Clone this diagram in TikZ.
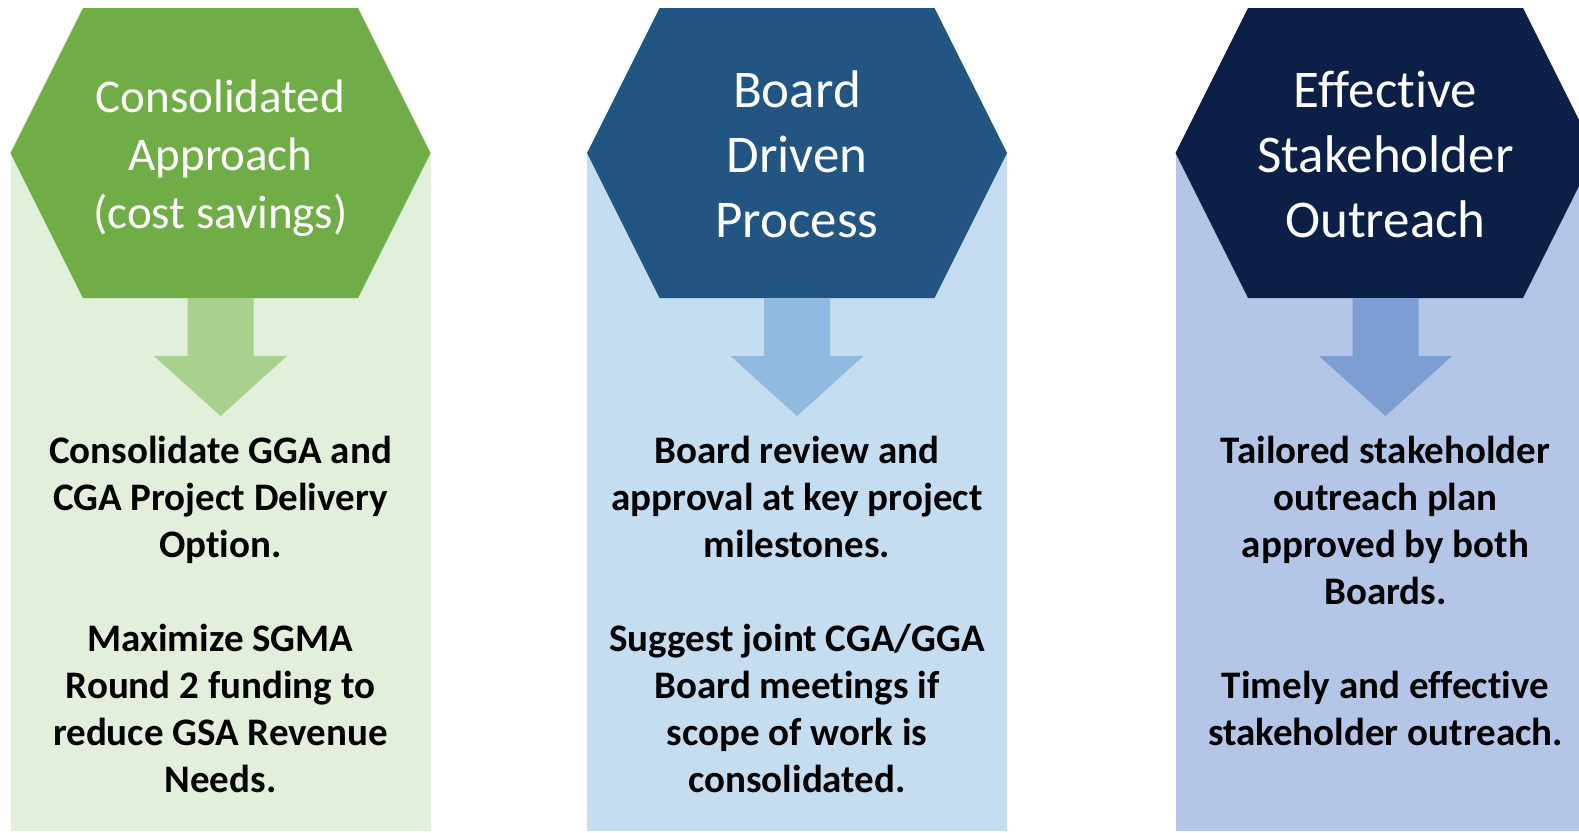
\documentclass[tikz,border=0pt]{standalone}
\usepackage{fontspec}
\setmainfont{Carlito}[Ligatures=NoCommon]
\usepackage{tikz}
\usetikzlibrary{positioning,calc}
\definecolor{greenHex}{HTML}{70AD47}
\definecolor{greenBg}{HTML}{E2EFDA}
\definecolor{greenArrow}{HTML}{A9D18E}
\definecolor{blueHex}{HTML}{225582}
\definecolor{blueBg}{HTML}{C5DDF0}
\definecolor{blueArrow}{HTML}{91BAE0}
\definecolor{navyHex}{HTML}{0C1F46}
\definecolor{navyBg}{HTML}{B4C6E7}
\definecolor{navyArrow}{HTML}{7D9ED2}
\tikzset{
  % Base styles
  panel base/.style={x=0.5pt, y=-0.5pt},
  % Column headings
  title text/.style={text=white, align=center, inner sep=0pt,
    font=\fontsize{23.5}{29}\selectfont},
  big title text/.style={title text, font=\fontsize{26.5}{32.5}\selectfont},
  % Column contents
  body text/.style={align=center, inner sep=0pt,
    font=\bfseries\fontsize{19.5}{23.5}\selectfont},
}

\begin{document}
\begin{tikzpicture}[panel base]
\useasboundingbox (0,0) rectangle (1579,832);

% Panels: background strip, hexagon and down arrow
\foreach \cx/\hexc/\bgc/\arrc [count=\i] in {220.5/greenHex/greenBg/greenArrow,
    797/blueHex/blueBg/blueArrow, 1385.5/navyHex/navyBg/navyArrow} {
  \coordinate (hex\i) at (\cx,153);
  \coordinate (tip\i) at (\cx,416);
  \begin{scope}[shift={(hex\i)}]
    \fill[\bgc] (-210,0) rectangle (210,678);
    \fill[\hexc] (-210,0) -- (-137.5,-145) -- (137.5,-145) -- (210,0)
      -- (137.5,145) -- (-137.5,145) -- cycle;
    \fill[\arrc] (-33,145) -- (33,145) -- (33,203) -- (66.5,203)
      -- (0,263) -- (-66.5,203) -- (-33,203) -- cycle;
  \end{scope}
}

% Headings
\node[title text, yshift=-2.5pt] (title1) at (hex1) {Consolidated\\Approach\\(cost savings)};
\node[big title text, yshift=-0.75pt] (title2) at (hex2) {Board\\Driven\\Process};
\node[big title text, yshift=-0.75pt] (title3) at (hex3) {Effective\\Stakeholder\\Outreach};

% Contents below the arrows
\node[body text, below=9.75pt of tip1] (body1) {Consolidate GGA and\\CGA Project Delivery\\Option.\\[23.5pt]Maximize SGMA\\Round 2 funding to\\reduce GSA Revenue\\Needs.};
\node[body text, below=9.75pt of tip2] (body2) {Board review and\\approval at key project\\milestones.\\[23.5pt]Suggest joint CGA/GGA\\Board meetings if\\scope of work is\\consolidated.};
\node[body text, below=9.75pt of tip3] (body3) {Tailored stakeholder\\outreach plan\\approved by both\\Boards.\\[23.5pt]Timely and effective\\stakeholder outreach.};
\end{tikzpicture}
\end{document}
